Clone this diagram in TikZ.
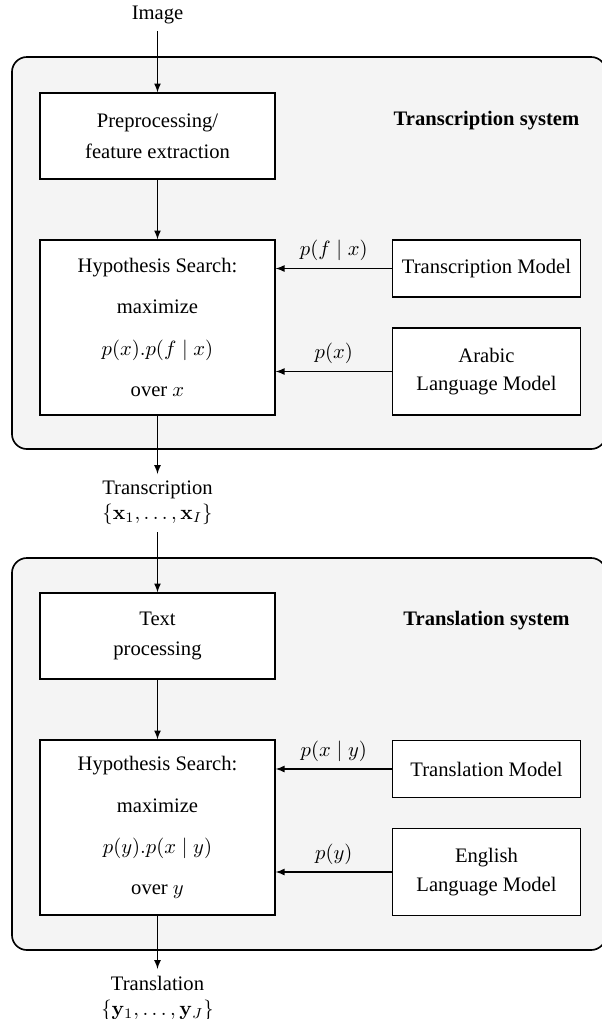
\documentclass[tikz,border=0pt]{standalone}
\usepackage{amsmath}
\usepackage{amssymb}
\usepackage[no-math]{fontspec}
\setmainfont{Liberation Serif}
\usepackage{tikz}
\usetikzlibrary{arrows.meta,arrows}
\definecolor{sysgray}{RGB}{244,244,244}

\begin{document}
\begin{tikzpicture}[x=0.01706cm, y=-0.01706cm,
    block/.style={draw, line width=0.6pt, fill=white, align=center, inner sep=0pt},
    wideblock/.style={block, minimum width=4.01cm},
    modelblock/.style={block, minimum width=3.207cm},
    sysbox/.style={draw, line width=0.8pt, fill=sysgray, rounded corners=0.256cm,
        minimum width=10.134cm, minimum height=6.688cm, inner sep=0pt},
    flow/.style={line width=0.5pt, -latex}]
    \useasboundingbox (0, 0) rectangle (602, 1019);
    % System frames
    \node[sysbox] (transsys) at (309, 253) {};
    \node[sysbox] (translsys) at (309, 754) {};
    %
    % Transcription system
    \node (img) at (157.5, 15) {Image};
    \node[wideblock, minimum height=1.467cm] (prep) at (157.5, 136) {Preprocessing/\\[3pt] feature extraction};
    \node[wideblock, minimum height=2.985cm] (hyp) at (157.5, 327.5)
        {Hypothesis Search:\\[8pt] maximize\\[8pt] $p(x).p(f \mid x)$\\[8pt] over $x$};
    \node[modelblock, minimum height=0.972cm] (tmodel) at (486.5, 268.5) {Transcription Model};
    \node[modelblock, minimum height=1.484cm] (alm) at (486.5, 371.5) {Arabic\\[2pt] Language Model};
    \node[font=\bfseries] (transtitle) at (486.5, 121) {Transcription system};
    \node[align=center, anchor=north] (transout) at (157.5, 474)
        {Transcription\\ $\{\mathbf{x}_1, \dots, \mathbf{x}_I\}$};
    %
    % Translation system
    \node[wideblock, minimum height=1.467cm] (textproc) at (157.5, 636) {Text\\[3pt] processing};
    \node[wideblock, minimum height=2.985cm] (hyptwo) at (157.5, 827.5)
        {Hypothesis Search:\\[8pt] maximize\\[8pt] $p(y).p(x \mid y)$\\[8pt] over $y$};
    \node[modelblock, minimum height=0.972cm] (trmodel) at (486.5, 769) {Translation Model};
    \node[modelblock, minimum height=1.484cm] (elm) at (486.5, 872) {English\\[2pt] Language Model};
    \node[font=\bfseries] (transltitle) at (486.5, 621) {Translation system};
    \node[align=center, anchor=north] (translout) at (157.5, 969)
        {Translation\\ $\{\mathbf{y}_1, \dots, \mathbf{y}_J\}$};
    %
    % Flow edges:
  \draw[flow] (img) -- (prep);
  \draw[flow] (prep) -- (hyp);
  \draw[flow] (tmodel) -- node [above] {$p(f \mid x)$} (tmodel -| hyp.east);
  \draw[flow] (alm) -- node [above] {$p(x)$} (alm -| hyp.east);
  \draw[flow] (hyp) -- (transout);
  \draw[flow] (transout) -- (textproc);
  \draw[flow] (textproc) -- (hyptwo);
  \draw[flow] (trmodel) -- node [above] {$p(x \mid y)$} (trmodel -| hyptwo.east);
  \draw[flow] (elm) -- node [above] {$p(y)$} (elm -| hyptwo.east);
  \draw[flow] (hyptwo) -- (translout);
\end{tikzpicture}
\end{document}
